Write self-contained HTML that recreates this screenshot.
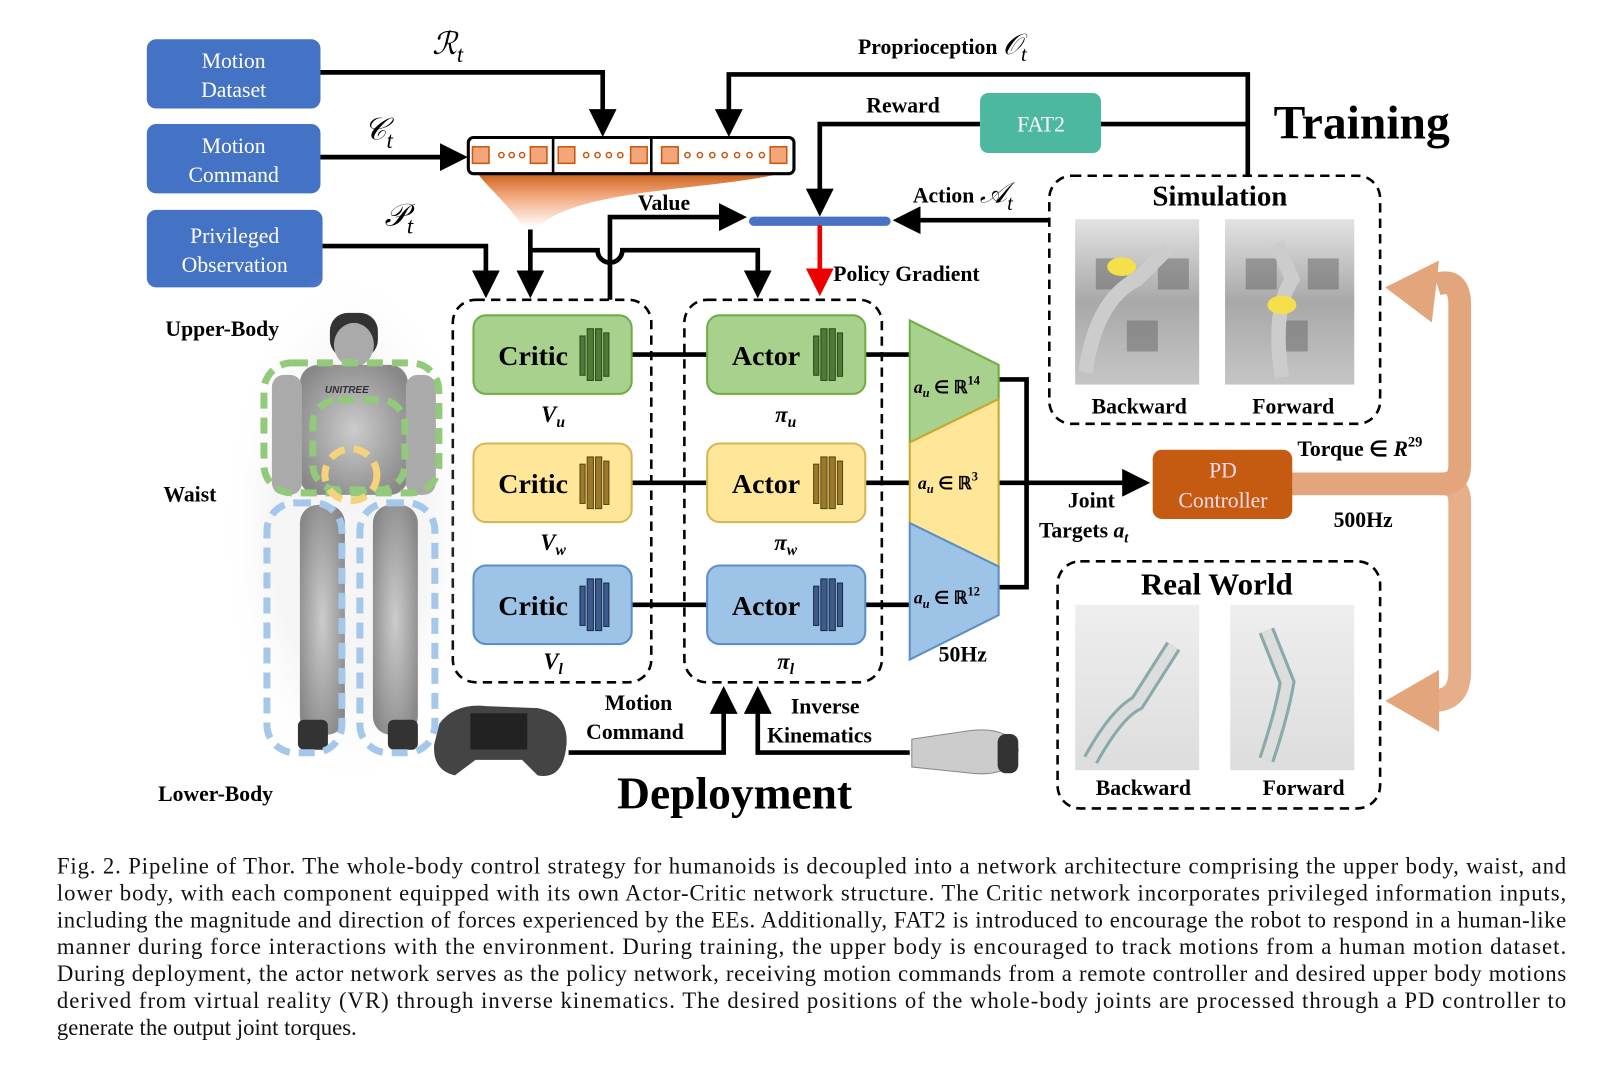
<!DOCTYPE html>
<html><head><meta charset="utf-8"><style>
html,body{margin:0;padding:0;background:#fff;}
svg{display:block;}
.s{font-family:"Liberation Serif",serif;}
.b{font-family:"Liberation Serif",serif;font-weight:bold;}
.cap{font-family:"Liberation Serif",serif;font-size:22px;fill:#111;}
</style></head><body>
<svg width="1621" height="1071" viewBox="0 0 1568 1036" xmlns="http://www.w3.org/2000/svg">
<defs>
<marker id="ah" markerWidth="6" markerHeight="6" refX="5" refY="3" orient="auto" markerUnits="strokeWidth"><path d="M0,0 L6,3 L0,6 z" fill="#000"/></marker>
<marker id="ahr" markerWidth="6" markerHeight="6" refX="5" refY="3" orient="auto" markerUnits="strokeWidth"><path d="M0,0 L6,3 L0,6 z" fill="#e00"/></marker>
<linearGradient id="fun" x1="0" y1="0" x2="0" y2="1"><stop offset="0" stop-color="#c55a11"/><stop offset="0.4" stop-color="#f0a070"/><stop offset="1" stop-color="#fff"/></linearGradient>
<radialGradient id="rob" cx="0.5" cy="0.5" r="0.6"><stop offset="0" stop-color="#ccc"/><stop offset="1" stop-color="#888"/></radialGradient>
<radialGradient id="glow" cx="0.5" cy="0.5" r="0.5"><stop offset="0.6" stop-color="#ddd"/><stop offset="1" stop-color="#fff" stop-opacity="0"/></radialGradient>
<linearGradient id="sim" x1="0" y1="0" x2="0" y2="1"><stop offset="0" stop-color="#ddd"/><stop offset="0.5" stop-color="#999"/><stop offset="1" stop-color="#bbb"/></linearGradient>
<linearGradient id="real" x1="0" y1="0" x2="0" y2="1"><stop offset="0" stop-color="#eee"/><stop offset="1" stop-color="#ddd"/></linearGradient>
</defs>

<g class="s" font-size="21" fill="#fff" text-anchor="middle">
<rect x="142" y="38" width="168" height="67" rx="9" fill="#4472c4"/>
<text x="226" y="66">Motion</text><text x="226" y="94">Dataset</text>
<rect x="142" y="120" width="168" height="67" rx="9" fill="#4472c4"/>
<text x="226" y="148">Motion</text><text x="226" y="176">Command</text>
<rect x="142" y="203" width="170" height="75" rx="9" fill="#4472c4"/>
<text x="227" y="235">Privileged</text><text x="227" y="263">Observation</text>
</g>
<g class="s" font-style="italic" font-size="30">
<text x="418" y="52">ℛ<tspan font-size="22" dy="8">t</tspan></text>
<text x="352" y="135">𝒞<tspan font-size="22" dy="8">t</tspan></text>
<text x="372" y="218">𝒫<tspan font-size="22" dy="8">t</tspan></text>
</g>

<path d="M460,165 L765,165 C700,185 560,180 520,220 L506,220 C490,195 470,180 460,165 z" fill="url(#fun)"/>
<rect x="453" y="133" width="315" height="35" rx="5" fill="#fff" stroke="#000" stroke-width="3"/>
<line x1="535" y1="133" x2="535" y2="168" stroke="#000" stroke-width="2.5"/>
<line x1="630" y1="133" x2="630" y2="168" stroke="#000" stroke-width="2.5"/>
<g fill="#f4a57a" stroke="#c55a11" stroke-width="1.5">
<rect x="457" y="142" width="16" height="16"/><rect x="513" y="142" width="16" height="16"/>
<rect x="540" y="142" width="16" height="16"/><rect x="610" y="142" width="16" height="16"/>
<rect x="640" y="142" width="16" height="16"/><rect x="745" y="142" width="16" height="16"/>
</g>
<g fill="#fff" stroke="#c55a11" stroke-width="1.5">
<circle cx="485" cy="150" r="2.5"/><circle cx="495" cy="150" r="2.5"/><circle cx="505" cy="150" r="2.5"/>
<circle cx="567" cy="150" r="2.5"/><circle cx="578" cy="150" r="2.5"/><circle cx="589" cy="150" r="2.5"/><circle cx="600" cy="150" r="2.5"/>
<circle cx="665" cy="150" r="2.5"/><circle cx="677" cy="150" r="2.5"/><circle cx="689" cy="150" r="2.5"/><circle cx="701" cy="150" r="2.5"/><circle cx="713" cy="150" r="2.5"/><circle cx="725" cy="150" r="2.5"/><circle cx="737" cy="150" r="2.5"/>
</g>

<g stroke="#000" stroke-width="4.5" fill="none">
<polyline points="310,70 583,70 583,128" marker-end="url(#ah)"/>
<polyline points="310,152 448,152" marker-end="url(#ah)"/>
<polyline points="312,238 470,238 470,284" marker-end="url(#ah)"/>
<polyline points="513,222 513,284" marker-end="url(#ah)"/>
<path d="M513,242 L578,242 A12,12 0 0 0 602,242 L733,242 L733,284" marker-end="url(#ah)"/>
<polyline points="590,290 590,210 718,210" marker-end="url(#ah)"/>
<polyline points="1207,170 1207,72 705,72 705,128" marker-end="url(#ah)"/>
<polyline points="948,120 793,120 793,205" marker-end="url(#ah)"/>
<line x1="1065" y1="120" x2="1207" y2="120"/>
<polyline points="1015,213 868,213" marker-end="url(#ah)"/>
<line x1="611" y1="343" x2="684" y2="343"/>
<line x1="611" y1="467" x2="684" y2="467"/>
<line x1="611" y1="585" x2="684" y2="585"/>
<line x1="837" y1="343" x2="880" y2="343"/>
<line x1="837" y1="467" x2="880" y2="467"/>
<line x1="837" y1="585" x2="880" y2="585"/>
<polyline points="966,367 993,367 993,568 966,568"/>
<polyline points="966,467 1108,467" marker-end="url(#ah)"/>
<polyline points="550,728 700,728 700,668" marker-end="url(#ah)"/>
<polyline points="880,728 733,728 733,668" marker-end="url(#ah)"/>
</g>
<line x1="729" y1="214" x2="857" y2="214" stroke="#4a72c4" stroke-width="9" stroke-linecap="round"/>
<line x1="793" y1="218" x2="793" y2="282" stroke="#e00" stroke-width="4.5" marker-end="url(#ahr)"/>

<g class="b" font-size="21">
<text x="830" y="52">Proprioception <tspan class="s" font-style="italic" font-weight="normal" font-size="28">𝒪<tspan font-size="20" dy="7">t</tspan></tspan></text>
<text x="838" y="109">Reward</text>
<text x="617" y="203">Value</text>
<text x="883" y="196">Action <tspan class="s" font-style="italic" font-weight="normal" font-size="28">𝒜<tspan font-size="20" dy="7">t</tspan></tspan></text>
<text x="806" y="272">Policy Gradient</text>
<text x="1255" y="441">Torque ∈ <tspan font-style="italic">R</tspan><tspan font-size="14" dy="-9">29</tspan></text>
<text x="1290" y="510">500Hz</text>
<text x="908" y="640">50Hz</text>
<text x="1033" y="491">Joint</text>
<text x="1005" y="520">Targets <tspan font-style="italic">a<tspan font-size="14" dy="5">t</tspan></tspan></text>
<text x="585" y="687">Motion</text><text x="567" y="715">Command</text>
<text x="765" y="690">Inverse</text><text x="742" y="718">Kinematics</text>
<text x="160" y="325">Upper-Body</text>
<text x="158" y="485">Waist</text>
<text x="153" y="775">Lower-Body</text>
</g>
<rect x="948" y="90" width="117" height="58" rx="8" fill="#4db8a0"/>
<text x="1007" y="127" class="s" font-size="21" fill="#fff" text-anchor="middle">FAT2</text>
<text x="1232" y="134" class="b" font-size="46">Training</text>
<text x="597" y="782" class="b" font-size="44">Deployment</text>

<g fill="none" stroke="#000" stroke-width="2.5" stroke-dasharray="9,6">
<rect x="438" y="290" width="192" height="370" rx="22"/>
<rect x="662" y="290" width="191" height="370" rx="22"/>
<rect x="1015" y="170" width="320" height="240" rx="22"/>
<rect x="1023" y="543" width="312" height="239" rx="22"/>
</g>

<g stroke-width="2">
<rect x="458" y="305" width="153" height="76" rx="12" fill="#a9d18e" stroke="#70ad47"/>
<rect x="684" y="305" width="153" height="76" rx="12" fill="#a9d18e" stroke="#70ad47"/>
<rect x="458" y="429" width="153" height="76" rx="12" fill="#ffe699" stroke="#d6b656"/>
<rect x="684" y="429" width="153" height="76" rx="12" fill="#ffe699" stroke="#d6b656"/>
<rect x="458" y="547" width="153" height="76" rx="12" fill="#9dc3e6" stroke="#5b8fc9"/>
<rect x="684" y="547" width="153" height="76" rx="12" fill="#9dc3e6" stroke="#5b8fc9"/>
</g>
<g class="b" font-size="27">
<text x="482" y="353">Critic</text><text x="708" y="353">Actor</text>
<text x="482" y="477">Critic</text><text x="708" y="477">Actor</text>
<text x="482" y="595">Critic</text><text x="708" y="595">Actor</text>
</g>
<g stroke-width="1">
<g fill="#4e7a36" stroke="#2a4a1a">
<rect x="561" y="325" width="5" height="38"/><rect x="568" y="318" width="6" height="50"/><rect x="576" y="318" width="6" height="50"/><rect x="584" y="322" width="5" height="42"/>
<rect x="787" y="325" width="5" height="38"/><rect x="794" y="318" width="6" height="50"/><rect x="802" y="318" width="6" height="50"/><rect x="810" y="322" width="5" height="42"/>
</g>
<g fill="#9a7a2a" stroke="#5a4510">
<rect x="561" y="449" width="5" height="38"/><rect x="568" y="442" width="6" height="50"/><rect x="576" y="442" width="6" height="50"/><rect x="584" y="446" width="5" height="42"/>
<rect x="787" y="449" width="5" height="38"/><rect x="794" y="442" width="6" height="50"/><rect x="802" y="442" width="6" height="50"/><rect x="810" y="446" width="5" height="42"/>
</g>
<g fill="#3c5a8a" stroke="#1a2a4a">
<rect x="561" y="567" width="5" height="38"/><rect x="568" y="560" width="6" height="50"/><rect x="576" y="560" width="6" height="50"/><rect x="584" y="564" width="5" height="42"/>
<rect x="787" y="567" width="5" height="38"/><rect x="794" y="560" width="6" height="50"/><rect x="802" y="560" width="6" height="50"/><rect x="810" y="564" width="5" height="42"/>
</g>
</g>
<g class="b" font-style="italic" font-size="22" text-anchor="middle">
<text x="535" y="408">V<tspan font-size="15" dy="5">u</tspan></text>
<text x="535" y="532">V<tspan font-size="15" dy="5">w</tspan></text>
<text x="535" y="647">V<tspan font-size="15" dy="5">l</tspan></text>
<text x="760" y="408">π<tspan font-size="15" dy="5">u</tspan></text>
<text x="760" y="532">π<tspan font-size="15" dy="5">w</tspan></text>
<text x="760" y="647">π<tspan font-size="15" dy="5">l</tspan></text>
</g>

<polygon points="880,310 966,353 966,386 880,428" fill="#a9d18e" stroke="#70ad47" stroke-width="2"/>
<polygon points="880,428 966,386 966,548 880,506" fill="#ffe699" stroke="#c9a830" stroke-width="2"/>
<polygon points="880,506 966,548 966,595 880,638" fill="#9dc3e6" stroke="#5b8fc9" stroke-width="2"/>
<g class="s" font-size="17" font-weight="bold">
<text x="884" y="380"><tspan font-style="italic">a<tspan font-size="12" dy="4">u</tspan></tspan><tspan dy="-4"> ∈ ℝ</tspan><tspan font-size="12" dy="-8">14</tspan></text>
<text x="888" y="473"><tspan font-style="italic">a<tspan font-size="12" dy="4">u</tspan></tspan><tspan dy="-4"> ∈ ℝ</tspan><tspan font-size="12" dy="-8">3</tspan></text>
<text x="884" y="584"><tspan font-style="italic">a<tspan font-size="12" dy="4">u</tspan></tspan><tspan dy="-4"> ∈ ℝ</tspan><tspan font-size="12" dy="-8">12</tspan></text>
</g>

<path d="M1250,468 L1395,468 Q1412,468 1412,450 L1412,295 Q1412,268 1390,275" fill="none" stroke="#e3a57c" stroke-width="22"/>
<polygon points="1392,252 1340,278 1385,312" fill="#e3a57c"/>
<path d="M1250,468 L1395,468 Q1412,468 1412,486 L1412,650 Q1412,678 1385,678" fill="none" stroke="#e3a57c" stroke-width="22" opacity="0.9"/>
<polygon points="1392,648 1340,678 1392,708" fill="#e3a57c"/>
<rect x="1115" y="435" width="135" height="67" rx="9" fill="#c55a11"/>
<g class="s" font-size="21" fill="#fde" text-anchor="middle"><text x="1183" y="462">PD</text><text x="1183" y="491">Controller</text></g>

<text x="1180" y="199" class="b" font-size="28" text-anchor="middle">Simulation</text>
<rect x="1040" y="212" width="120" height="160" fill="url(#sim)" opacity="0.85"/>
<rect x="1185" y="212" width="125" height="160" fill="url(#sim)" opacity="0.85"/>
<g fill="#666" opacity="0.5"><rect x="1060" y="250" width="30" height="30"/><rect x="1120" y="250" width="30" height="30"/><rect x="1205" y="250" width="30" height="30"/><rect x="1265" y="250" width="30" height="30"/><rect x="1090" y="310" width="30" height="30"/><rect x="1235" y="310" width="30" height="30"/></g>
<path d="M1050,360 Q1060,290 1100,270 L1130,240" stroke="#ccc" stroke-width="14" fill="none"/>
<path d="M1240,365 Q1230,300 1250,270 L1235,235" stroke="#ccc" stroke-width="14" fill="none"/>
<ellipse cx="1085" cy="258" rx="14" ry="9" fill="#f4e04a"/>
<ellipse cx="1240" cy="295" rx="14" ry="9" fill="#f4e04a"/>
<g class="b" font-size="21" text-anchor="middle"><text x="1102" y="400">Backward</text><text x="1251" y="400">Forward</text></g>

<text x="1177" y="575" class="b" font-size="30" text-anchor="middle">Real World</text>
<rect x="1040" y="585" width="120" height="160" fill="url(#real)"/>
<rect x="1190" y="585" width="120" height="160" fill="url(#real)"/>
<path d="M1055,735 Q1080,690 1100,680 L1135,625" stroke="#8aa" stroke-width="16" fill="none"/>
<path d="M1055,735 Q1080,690 1100,680 L1135,625" stroke="#ddd" stroke-width="10" fill="none"/>
<path d="M1225,735 Q1240,690 1245,660 L1225,610" stroke="#8aa" stroke-width="16" fill="none"/>
<path d="M1225,735 Q1240,690 1245,660 L1225,610" stroke="#ddd" stroke-width="10" fill="none"/>
<g class="b" font-size="21" text-anchor="middle"><text x="1106" y="769">Backward</text><text x="1261" y="769">Forward</text></g>

<path d="M425,700 Q440,680 470,683 L520,685 Q550,690 548,720 Q545,755 520,750 L505,735 L460,735 L440,750 Q418,745 420,720 z" fill="#444"/>
<rect x="455" y="690" width="55" height="35" fill="#222"/>
<path d="M882,715 L930,708 Q975,700 985,725 Q980,752 940,748 L882,742 z" fill="#ccc" stroke="#888"/>
<rect x="965" y="710" width="20" height="38" rx="8" fill="#333"/>

<g transform="scale(0.967)">
<ellipse cx="350" cy="530" rx="130" ry="265" fill="url(#glow)" opacity="0.3"/>
<rect x="330" y="313" width="48" height="45" rx="18" fill="#333"/>
<ellipse cx="354" cy="345" rx="20" ry="22" fill="#aaa"/>
<rect x="300" y="365" width="108" height="130" rx="18" fill="url(#rob)"/>
<rect x="272" y="375" width="30" height="120" rx="12" fill="#aaa"/>
<rect x="406" y="375" width="30" height="120" rx="12" fill="#aaa"/>
<rect x="300" y="505" width="45" height="230" rx="18" fill="url(#rob)"/>
<rect x="373" y="505" width="45" height="230" rx="18" fill="url(#rob)"/>
<rect x="298" y="720" width="30" height="30" rx="6" fill="#333"/>
<rect x="388" y="720" width="30" height="30" rx="6" fill="#333"/>
<text x="325" y="393" font-family="Liberation Sans,sans-serif" font-style="italic" font-weight="bold" font-size="10" fill="#333">UNITREE</text>
<g fill="none" stroke-width="7" stroke-dasharray="16,9">
<rect x="264" y="363" width="175" height="130" rx="28" stroke="#92c97a"/>
<rect x="313" y="400" width="92" height="90" rx="25" stroke="#92c97a"/>
<circle cx="351" cy="475" r="26" stroke="#f5d37a"/>
<rect x="267" y="503" width="75" height="250" rx="28" stroke="#a5c8ea"/>
<rect x="360" y="503" width="75" height="250" rx="28" stroke="#a5c8ea"/>
</g>
</g>

<g class="cap">
<text x="55" y="845" textLength="1460" lengthAdjust="spacing">Fig. 2.   Pipeline of Thor. The whole-body control strategy for humanoids is decoupled into a network architecture comprising the upper body, waist, and</text>
<text x="55" y="871" textLength="1460" lengthAdjust="spacing">lower body, with each component equipped with its own Actor-Critic network structure. The Critic network incorporates privileged information inputs,</text>
<text x="55" y="897" textLength="1460" lengthAdjust="spacing">including the magnitude and direction of forces experienced by the EEs. Additionally, FAT2 is introduced to encourage the robot to respond in a human-like</text>
<text x="55" y="923" textLength="1460" lengthAdjust="spacing">manner during force interactions with the environment. During training, the upper body is encouraged to track motions from a human motion dataset.</text>
<text x="55" y="949" textLength="1460" lengthAdjust="spacing">During deployment, the actor network serves as the policy network, receiving motion commands from a remote controller and desired upper body motions</text>
<text x="55" y="975" textLength="1460" lengthAdjust="spacing">derived from virtual reality (VR) through inverse kinematics. The desired positions of the whole-body joints are processed through a PD controller to</text>
<text x="55" y="1001">generate the output joint torques.</text>
</g>
</svg>
</body></html>
